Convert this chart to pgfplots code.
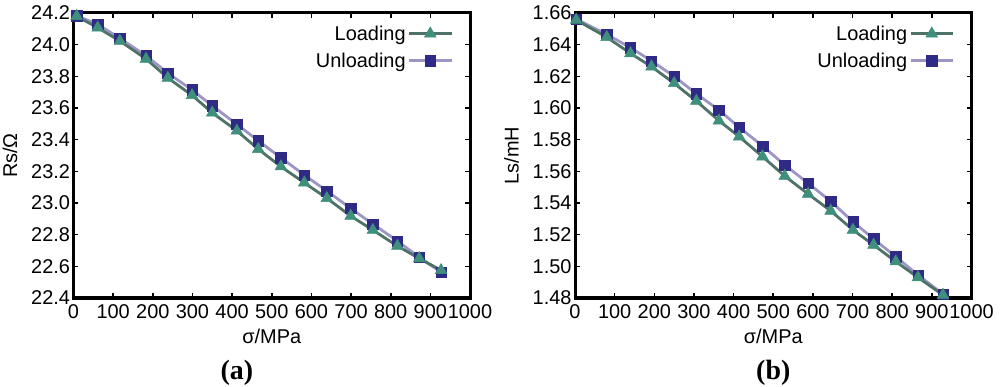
\documentclass[border=0pt]{standalone}
\usepackage{pgfplots}
\pgfplotsset{compat=1.18}
\usepackage{fontspec}
\setmainfont{Liberation Sans}
\newfontfamily\capfont{Liberation Serif}
\definecolor{loadline}{HTML}{4E7268}
\definecolor{loadmark}{HTML}{3F8F7C}
\definecolor{unline}{HTML}{9D95C5}
\definecolor{unmark}{HTML}{2E2A86}
\pgfplotstableread{
x y
8 24.180
61 24.107
117 24.023
183 23.910
238 23.790
299 23.680
350 23.570
412 23.456
466 23.340
523 23.230
582 23.128
639 23.030
699 22.918
755 22.829
817 22.728
872 22.650
927 22.575
}\RsLoad
\pgfplotstableread{
x y
8 24.182
61 24.129
117 24.040
183 23.930
238 23.820
299 23.714
350 23.614
412 23.497
466 23.393
523 23.286
582 23.177
639 23.076
699 22.966
755 22.867
817 22.760
872 22.657
927 22.563
}\RsUnload
\pgfplotstableread{
x y
3 1.6556
80 1.6447
140 1.6345
193 1.6261
250 1.6156
306 1.6044
363 1.5920
414 1.5819
473 1.5693
529 1.5570
588 1.5457
645 1.5350
701 1.5230
753 1.5135
809 1.5030
865 1.4930
928 1.4819
}\LsLoad
\pgfplotstableread{
x y
3 1.6562
80 1.6465
140 1.6381
193 1.6297
250 1.6200
306 1.6090
363 1.5987
414 1.5878
473 1.5760
529 1.5640
588 1.5525
645 1.5410
701 1.5282
753 1.5173
809 1.5061
865 1.4945
928 1.4825
}\LsUnload
\pgfplotsset{
  common/.style={
    scale only axis, width=396.5bp, height=285bp,
    anchor=south west, clip=false,
    xmin=0, xmax=1000, xtick={0,100,...,1000},
    axis line style={line width=3bp},
    tick align=inside, major tick length=5bp,
    every tick/.style={line width=1.6bp, black},
    tick label style={font=\fontsize{20}{22}\selectfont},
    xticklabel style={/pgf/number format/1000 sep={}, yshift=-3bp},
    label style={font=\fontsize{20}{22}\selectfont},
    /pgf/number format/assume math mode=true,
    xlabel={σ/MPa}, xlabel shift=4bp, ylabel shift=7bp,
    legend style={draw=none, fill=none, font=\fontsize{20}{22}\selectfont,
      at={(0.965,0.97)}, anchor=north east, row sep=7bp},
    legend cell align=right, legend plot pos=right, reverse legend,
    legend image code/.code={\draw[mark repeat=2,mark phase=2,##1] plot coordinates {(0cm,0cm) (0.75cm,0cm) (1.5cm,0cm)};},
  },
  unl/.style={color=unline, line width=2.8bp, mark=square*, mark size=5.2bp,
    mark options={fill=unmark, draw=unmark, line width=0.5bp}},
  lod/.style={color=loadline, line width=2.8bp, mark=triangle*, mark size=6.8bp,
    mark options={fill=loadmark, draw=loadmark, line width=0.5bp}},
}
\begin{document}
\begin{tikzpicture}
\useasboundingbox (0,0) rectangle (1000bp,387bp);
\begin{axis}[common, at={(73.5bp,89bp)},
  ymin=22.4, ymax=24.2, ytick={22.4,22.6,...,24.21},
  yticklabel style={/pgf/number format/.cd, fixed, fixed zerofill, precision=1},
  ylabel={Rs/Ω}]
\addplot[unl] table {\RsUnload};
\addlegendentry{Unloading}
\addplot[lod] table {\RsLoad};
\addlegendentry{Loading}
\node[font=\capfont\bfseries\fontsize{28}{30}\selectfont] at (rel axis cs:0.412,-0.263) {(a)};
\end{axis}
\begin{axis}[common, at={(575bp,89bp)},
  ymin=1.48, ymax=1.66, ytick={1.48,1.50,...,1.661},
  yticklabel style={/pgf/number format/.cd, fixed, fixed zerofill, precision=2},
  ylabel={Ls/mH}]
\addplot[unl] table {\LsUnload};
\addlegendentry{Unloading}
\addplot[lod] table {\LsLoad};
\addlegendentry{Loading}
\node[font=\capfont\bfseries\fontsize{28}{30}\selectfont] at (rel axis cs:0.5,-0.263) {(b)};
\end{axis}
\end{tikzpicture}
\end{document}
